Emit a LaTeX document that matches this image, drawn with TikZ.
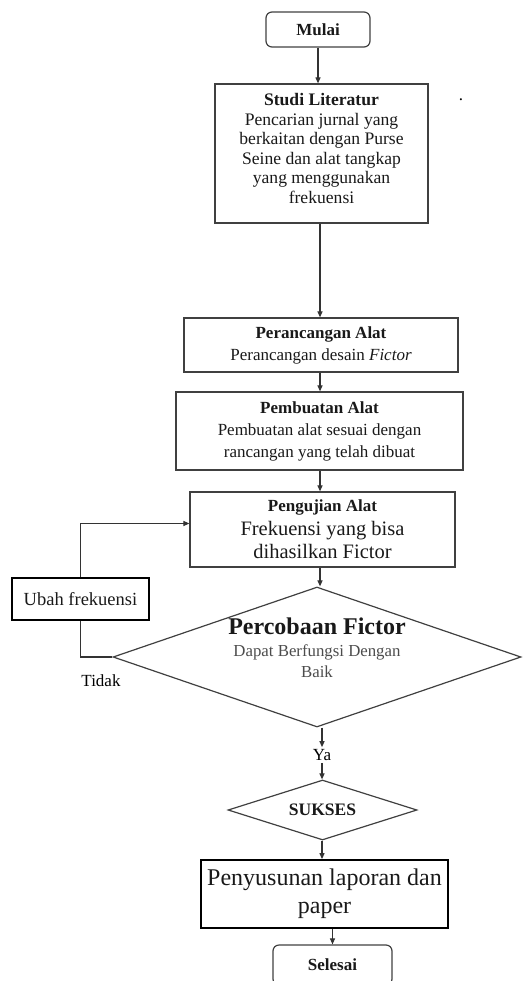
\documentclass[tikz,border=0pt]{standalone}
\usepackage{fontspec}
\setmainfont{Liberation Serif}
\usetikzlibrary{shapes.geometric}
\usetikzlibrary{arrows.meta}

\begin{document}
\begin{tikzpicture}
    [
        x = 1pt, y = -1pt,
        process/.style = {rectangle, draw = black!75, line width = 1.2pt, align = center, inner sep = 2pt, text = black!90},
        terminal/.style = {process, rounded corners = 6pt},
        decision/.style = {diamond, draw = black!75, line width = 1.2pt, align = center, inner sep = 0pt, text = black!90},
        flow/.style = {draw = black!80, line width = 1.1pt, -{Triangle[length = 6pt, width = 5pt]}},
        plain/.style = {draw = black!80, line width = 1.1pt},
        small/.style = {font = \fontsize{17}{20}\selectfont},
    ]
    \useasboundingbox (0,0) rectangle (522,981);
    \node (start) [terminal, small, minimum width = 104pt, minimum height = 35pt] at (318,29.5) {\textbf{Mulai}};
    \node (studi) [process, font = \fontsize{17.6}{19.6}\selectfont, minimum width = 213pt, minimum height = 139pt,
        label = {[align = center, yshift = 5pt, font = \fontsize{17.6}{19.6}\selectfont, text = black!90]center:{\textbf{Studi Literatur}\\Pencarian jurnal yang\\berkaitan dengan Purse\\Seine dan alat tangkap\\yang menggunakan\\frekuensi}}] at (321.5,153.5) {};
    \node (rancang) [process, font = \fontsize{17}{22}\selectfont, minimum width = 274pt, minimum height = 54pt] at (321,345)
        {\textbf{Perancangan Alat}\\Perancangan desain \textit{Fictor}};
    \node (buat) [process, font = \fontsize{17}{22}\selectfont, minimum width = 287pt, minimum height = 78pt] at (319.5,431)
        {\textbf{Pembuatan Alat}\\Pembuatan alat sesuai dengan\\rancangan yang telah dibuat};
    \node (uji) [process, font = \fontsize{20.5}{23.5}\selectfont, minimum width = 265pt, minimum height = 75pt] at (322.5,529.5)
        {{\fontsize{17}{20}\selectfont\textbf{Pengujian Alat}}\\Frekuensi yang bisa\\dihasilkan Fictor};
    \node (ubah) [process, draw = black, font = \fontsize{18.5}{20}\selectfont, minimum width = 137pt, minimum height = 42pt] at (80.5,599) {Ubah frekuensi};
    \node (coba) [decision, aspect = 2.9, minimum width = 408pt, minimum height = 140pt,
        label = {[align = center, yshift = 9pt, font = \fontsize{16.8}{22}\selectfont, text = black!70]center:{{\fontsize{24}{26}\selectfont\color{black!90}\textbf{Percobaan Fictor}}\\Dapat Berfungsi Dengan\\[-1pt]Baik}}] at (317,657) {};
    \node (ya) [small, inner sep = 2pt] at (322,755) {Ya};
    \node (tidak) [small, inner sep = 0pt] at (101,681) {Tidak};
    \node (sukses) [decision, aspect = 3, minimum width = 189pt, minimum height = 60pt, font = \fontsize{17.5}{20}\selectfont] at (322.5,810) {\textbf{SUKSES}};
    \node (susun) [process, draw = black, line width = 1.8pt, font = \fontsize{24}{28}\selectfont, minimum width = 247pt, minimum height = 68pt] at (324.5,894)
        {Penyusunan laporan dan\\paper};
    \node (selesai) [terminal, small, minimum width = 119pt, minimum height = 40pt] at (332.5,965) {\textbf{Selesai}};
    \node (titik) [small, inner sep = 0pt] at (461,100) {.};
    % alur utama
    \draw[flow] (start.south) -- (start.south |- studi.north);
    \draw[flow] (studi.south -| 320,0) -- (rancang.north -| 320,0);
    \draw[flow] (rancang.south -| 320,0) -- (buat.north -| 320,0);
    \draw[flow] (buat.south -| 320,0) -- (uji.north -| 320,0);
    \draw[flow] (uji.south -| 320,0) -- (coba.north -| 320,0);
    \draw[flow] (coba.south -| ya) -- (ya.north);
    \draw[flow] (ya.south) -- (sukses.north -| ya);
    \draw[flow] (sukses.south -| ya) -- (susun.north -| ya);
    \draw[flow] (susun.south -| selesai) -- (selesai.north);
    % umpan balik
    \draw[plain] (coba.west) -- (coba.west -| ubah) -- (ubah.south);
    \draw[flow] (ubah.north) |- ([yshift = 6pt]uji.west);
\end{tikzpicture}
\end{document}
